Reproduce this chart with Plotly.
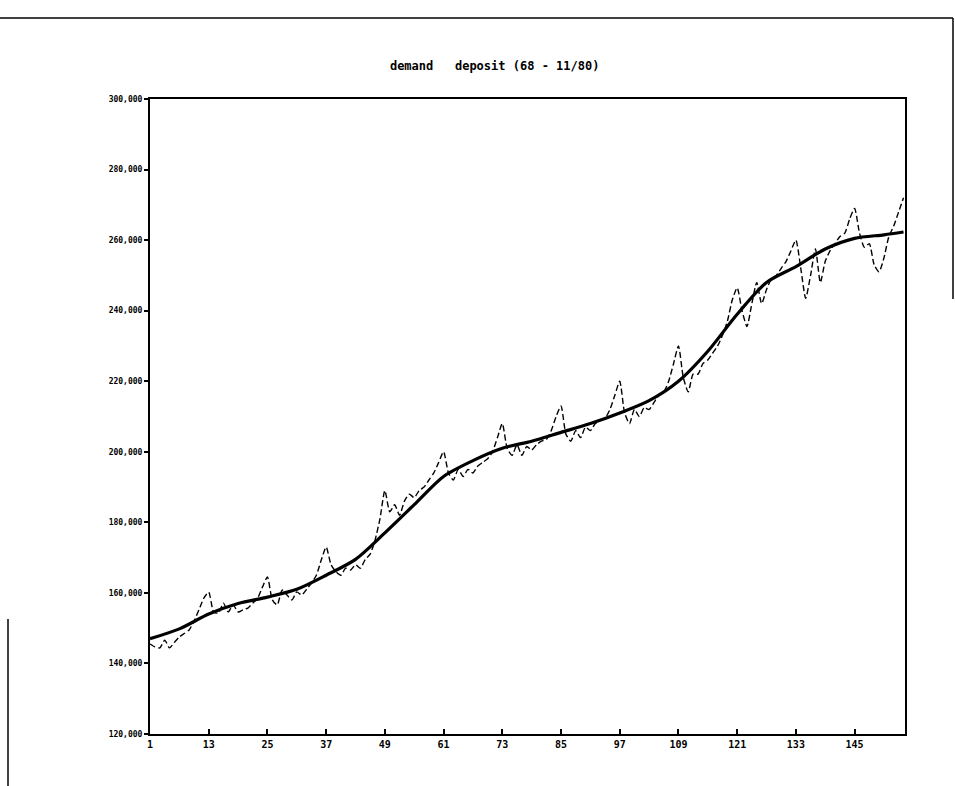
import plotly.graph_objects as go

# Monthly demand deposits, Jan 1968 (month 1) through Nov 1980 (month 155)
months = list(range(1, 156))
deposits = [
    145.5, 144.7, 144.4, 146.6, 144.4, 146.0, 147.5, 148.5, 149.5, 152.0, 155.2, 158.5,
    160.2, 154.6, 154.3, 157.1, 154.6, 156.6, 154.6, 155.2, 155.7, 157.1, 158.5, 161.7,
    164.5, 158.0, 156.6, 160.8, 159.4, 158.0, 160.3, 159.4, 161.0, 162.8, 165.0, 169.3,
    173.0, 168.0, 166.0, 165.0, 167.0, 166.5, 168.0, 167.0, 169.5, 171.0, 175.0, 181.0,
    189.0, 183.0, 185.0, 182.0, 186.0, 188.0, 187.0, 189.0, 190.0, 192.0, 194.0, 197.0,
    200.0, 194.0, 192.0, 195.0, 193.0, 195.0, 194.0, 196.0, 197.0, 198.0, 200.0, 204.0,
    208.0, 201.0, 199.0, 202.0, 199.0, 201.5, 200.5, 202.0, 203.0, 203.5, 206.0, 210.0,
    213.0, 205.0, 203.0, 206.0, 204.0, 207.0, 206.0, 208.0, 209.0, 209.5, 212.0, 216.0,
    220.0, 211.0, 208.0, 212.0, 210.0, 212.5, 212.0, 214.0, 216.0, 217.0, 220.0, 225.0,
    230.0, 221.0, 217.0, 222.0, 222.0, 225.0, 226.0, 228.0, 230.0, 233.0, 237.0, 243.0,
    246.5, 240.0, 235.5, 242.0, 248.0, 242.0, 246.0, 249.0, 250.0, 252.0, 254.0, 257.0,
    260.0, 252.0, 243.5, 250.0, 257.5, 248.0, 254.0, 257.0, 259.0, 261.0, 262.0, 266.0,
    269.0, 262.0, 258.0, 259.0, 253.0, 251.0, 255.0, 261.0, 264.0, 268.0, 272.0,
]

# Smoothed trend, read at half-year steps
trend_months = [1, 7, 13, 19, 25, 31, 37, 43, 49, 55, 61, 67, 73, 79, 85, 91,
                97, 103, 109, 115, 121, 127, 133, 139, 145, 151, 155]
trend = [147.0, 149.8, 154.0, 157.0, 158.8, 161.0, 165.0, 169.5, 177.0, 185.0,
         193.0, 197.5, 201.0, 203.0, 205.5, 208.0, 211.0, 214.5, 220.0, 228.5,
         239.0, 248.0, 252.5, 257.5, 260.5, 261.5, 262.3]

y_ticks = [120, 140, 160, 180, 200, 220, 240, 260, 280, 300]
y_tick_text = ["120,000", "140,000", "160,000", "180,000", "200,000",
               "220,000", "240,000", "260,000", "280,000", "300,000"]
x_ticks = [1, 13, 25, 37, 49, 61, 73, 85, 97, 109, 121, 133, 145]

fig = go.Figure()
fig.add_trace(go.Scatter(
    x=months, y=deposits, mode="lines",
    line=dict(color="black", width=1.4, dash="6px,3px", shape="spline", smoothing=0.6),
    showlegend=False, hoverinfo="skip",
))
fig.add_trace(go.Scatter(
    x=trend_months, y=trend, mode="lines",
    line=dict(color="black", width=3.2, shape="spline", smoothing=0.8),
    showlegend=False, hoverinfo="skip",
))

y_font = dict(family="DejaVu Sans Mono", size=8, color="black", weight="bold")
x_font = dict(family="DejaVu Sans Mono", size=10, color="black", weight="bold")

fig.update_layout(
    width=955, height=786,
    margin=dict(l=150, r=50, t=99, b=52),
    paper_bgcolor="white", plot_bgcolor="white",
    title=dict(text="demand   deposit (68 - 11/80)", x=0.518, xanchor="center",
               y=1 - 66 / 786, yanchor="middle",
               font=dict(family="DejaVu Sans Mono", size=12, color="black", weight="bold")),
    xaxis=dict(range=[1, 155.3], tickvals=x_ticks, ticks="inside", ticklen=5,
               tickwidth=2, tickcolor="black", showgrid=False, zeroline=False,
               showline=True, linecolor="black", linewidth=2, mirror=True,
               tickfont=x_font),
    yaxis=dict(range=[120, 300], tickvals=y_ticks, ticktext=y_tick_text,
               ticks="outside", ticklen=4, tickwidth=2, tickcolor="black",
               showgrid=False, zeroline=False, showline=True, linecolor="black",
               linewidth=2, mirror=True, tickfont=y_font),
    shapes=[
        dict(type="line", xref="paper", yref="paper", x0=-150 / 755, x1=1 + 48 / 755,
             y0=1 + 81 / 635, y1=1 + 81 / 635, line=dict(color="black", width=1.5)),
        dict(type="line", xref="paper", yref="paper", x0=1 + 48 / 755, x1=1 + 48 / 755,
             y0=1 + 81 / 635, y1=1 - 200 / 635, line=dict(color="black", width=1.5)),
        dict(type="line", xref="paper", yref="paper", x0=-142 / 755, x1=-142 / 755,
             y0=1 - 520 / 635, y1=-52 / 635, line=dict(color="black", width=1.5)),
    ],
)

fig.write_html("out.html")
